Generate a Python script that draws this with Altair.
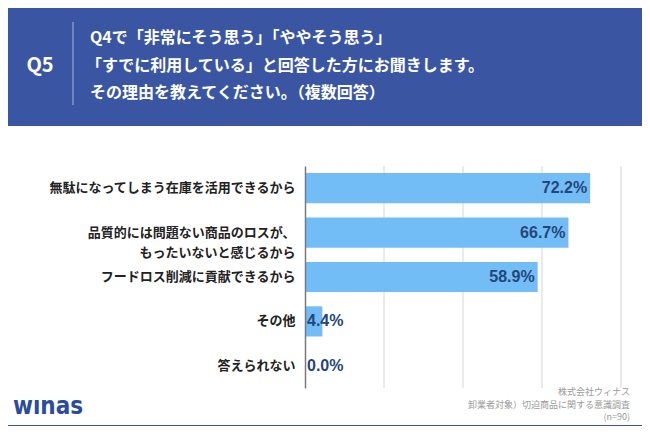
import altair as alt
import pandas as pd

categories = [
    "無駄になってしまう在庫を活用できるから",
    "品質的には問題ない商品のロスが、|もったいないと感じるから",
    "フードロス削減に貢献できるから",
    "その他",
    "答えられない",
]
values = [72.2, 66.7, 58.9, 4.4, 0.0]
grid_ticks = [20, 40, 60, 80]
header_lines = [
    "Q4で「非常にそう思う」「ややそう思う」",
    "「すでに利用している」と回答した方にお聞きします。",
    "その理由を教えてください。（複数回答）",
]
footnotes = ["株式会社ウィナス", "卸業者対象）切迫商品に関する意識調査", "(n=90)"]

FONT = "Noto Sans CJK JP"
BLUE_BG = "#3A56A3"
BAR = "#73BDF6"
VAL = "#24467A"

df = pd.DataFrame({"cat": categories, "val": values})
df["label"] = df["val"].map(lambda v: f"{v:.1f}%")
one = pd.DataFrame({"a": [0]})

xs = alt.Scale(domain=[0, 80], nice=False, zero=True)
ys = alt.Scale(domain=categories, paddingInner=0.32, paddingOuter=0.16)

panel = alt.Chart(one).mark_rect(color="white").encode(
    x=alt.value(-298), x2=alt.value(337), y=alt.value(-40), y2=alt.value(259)
)

grid = alt.Chart(pd.DataFrame({"g": grid_ticks})).mark_rule(
    color="#d6d6d6", strokeWidth=1
).encode(x=alt.X("g:Q", scale=xs, axis=None))

bars = alt.Chart(df).mark_bar(color=BAR).encode(
    x=alt.X("val:Q", scale=xs, axis=None),
    y=alt.Y(
        "cat:N",
        scale=ys,
        sort=categories,
        axis=alt.Axis(
            title=None,
            ticks=False,
            labelFont=FONT,
            labelFontSize=13,
            labelFontWeight="bold",
            labelColor="#222222",
            labelPadding=10,
            labelLineHeight=20,
            labelLimit=400,
            labelExpr="split(datum.label, '|')",
            domainColor="#7a7a7a",
            domainWidth=1.5,
            zindex=1,
        ),
    ),
)

NUMFONT = "Liberation Sans"

big = alt.Chart(df).transform_filter("datum.val >= 10").mark_text(
    align="right", baseline="middle", dx=-3, font=NUMFONT, fontSize=16,
    fontWeight="bold", color=VAL
).encode(x=alt.X("val:Q", scale=xs), y=alt.Y("cat:N", scale=ys, sort=categories), text="label:N")

small = alt.Chart(df).transform_filter("datum.val < 10").mark_text(
    align="left", baseline="middle", dx=2, font=NUMFONT, fontSize=16,
    fontWeight="bold", color=VAL
).encode(x=alt.datum(0, scale=xs), y=alt.Y("cat:N", scale=ys, sort=categories), text="label:N")

q5 = alt.Chart(one).mark_text(
    align="center", baseline="middle", font=FONT, fontSize=20, fontWeight="bold", color="white"
).encode(x=alt.value(-265), y=alt.value(-100), text=alt.value("Q5"))

vline = alt.Chart(one).mark_rule(color="#A7B5DD", strokeWidth=1).encode(
    x=alt.value(-232), y=alt.value(-144), y2=alt.value(-61)
)

header_layers = []
for i, line in enumerate(header_lines):
    header_layers.append(
        alt.Chart(one).mark_text(
            align="left", baseline="middle", font=FONT, fontSize=16, fontWeight="bold", color="white"
        ).encode(x=alt.value(-215 if i != 1 else -219), y=alt.value(-128 + 27.5 * i), text=alt.value(line))
    )

foot_layers = []
for i, line in enumerate(footnotes):
    foot_layers.append(
        alt.Chart(one).mark_text(
            align="right", baseline="middle", font=FONT, fontSize=9, color="#9a9a9a"
        ).encode(x=alt.value(325), y=alt.value(226 + 12.5 * i), text=alt.value(line))
    )

logo = alt.Chart(one).mark_text(
    align="center", baseline="middle", font="DejaVu Sans Condensed", fontSize=24, fontWeight="bold",
    color="#2B4C9E"
).encode(x=alt.value(-257), y=alt.value(241), text=alt.value("wınas"))

chart = alt.layer(
    panel, grid, bars, big, small, q5, vline, *header_layers, *foot_layers, logo
).properties(
    width=316,
    height=222,
    background=BLUE_BG,
    padding={"left": 297, "top": 158, "right": 21, "bottom": 38},
    autosize=alt.AutoSizeParams(type="none"),
).configure_view(stroke=None)

chart.save("out.html", embed_options={"renderer": "svg", "actions": False})
